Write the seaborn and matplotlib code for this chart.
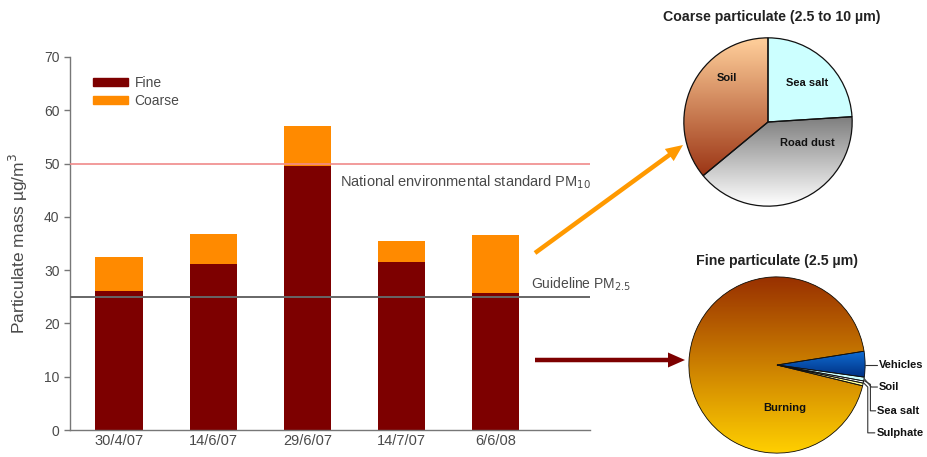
import numpy as np
import pandas as pd
import matplotlib
matplotlib.use("Agg")
import matplotlib.pyplot as plt
import seaborn as sns
from matplotlib.patches import Patch, FancyArrow
from matplotlib.colors import LinearSegmentedColormap

# ---- data ----
dates = ["30/4/07", "14/6/07", "29/6/07", "14/7/07", "6/6/08"]
fine = [26.0, 31.2, 49.5, 31.6, 25.7]
coarse = [6.5, 5.5, 7.6, 3.8, 10.9]
pm10_standard = 50
pm25_guideline = 25

coarse_sources = ["Sea salt", "Road dust", "Soil"]
coarse_shares = [24, 40, 36]
fine_sources = ["Vehicles", "Soil", "Sea salt", "Sulphate", "Burning"]
fine_shares = [4.7, 0.7, 0.4, 0.5, 93.7]

# ---- style ----
sns.set_theme(style="ticks")
plt.rcParams["font.family"] = ["Liberation Sans", "DejaVu Sans"]
TXT = "#4a4a4a"
FINE_C = "#7d0000"
COARSE_C = "#ff8a00"

W, H = 928, 457
fig = plt.figure(figsize=(W / 100, H / 100), dpi=100)
fig.patch.set_facecolor("white")

def px_axes(x0, y0, x1, y1):
    return fig.add_axes([x0 / W, 1 - y1 / H, (x1 - x0) / W, (y1 - y0) / H])

# ---- bar chart ----
ax = px_axes(70, 57, 590, 430)
df = pd.DataFrame({"date": dates, "fine": fine, "coarse": coarse})
df["total"] = df["fine"] + df["coarse"]
sns.barplot(data=df, x="date", y="total", color=COARSE_C, saturation=1,
            width=0.5, ax=ax, linewidth=0)
sns.barplot(data=df, x="date", y="fine", color=FINE_C, saturation=1,
            width=0.5, ax=ax, linewidth=0)
ax.set_xlim(-0.52, 5.0)
ax.set_ylim(0, 70)
ax.set_yticks(range(0, 71, 10))
ax.axhline(pm10_standard, color="#f08a8a", lw=1.2, zorder=3)
ax.axhline(pm25_guideline, color="#666666", lw=1.4, zorder=3)
ax.text(2.345, 46.5, "National environmental standard PM$_{10}$", color=TXT,
        fontsize=10.5, va="center", ha="left")
ax.text(4.37, 27.4, "Guideline PM$_{2.5}$", color=TXT, fontsize=10,
        va="center", ha="left")
ax.set_xlabel("")
ax.set_ylabel("Particulate mass µg/m$^3$", color=TXT, fontsize=12.5, labelpad=10)
sns.despine(ax=ax)
for s in ["left", "bottom"]:
    ax.spines[s].set_color("#777777")
    ax.spines[s].set_linewidth(1.0)
ax.tick_params(axis="y", colors="#777777", labelcolor=TXT, labelsize=10,
               length=4, width=1)
ax.tick_params(axis="x", length=0, labelcolor=TXT, labelsize=10.5, pad=3)
ax.set_facecolor("none")
ax.legend(handles=[Patch(color=FINE_C, label="Fine"),
                   Patch(color=COARSE_C, label="Coarse")],
          loc="upper left", bbox_to_anchor=(0.044, 0.949), frameon=False,
          fontsize=10, handlelength=2.5, handleheight=0.55,
          handletextpad=0.5, labelspacing=0.3, borderpad=0, borderaxespad=0,
          labelcolor=TXT)

# ---- helper for gradient-filled wedges ----
def grad(ax_, wedge, c_top, c_bot, y_top, y_bot):
    ys = np.linspace(-1, 1, 300)
    t = np.clip((ys - y_bot) / (y_top - y_bot), 0, 1).reshape(-1, 1)
    cmap = LinearSegmentedColormap.from_list("g", [c_bot, c_top])
    im = ax_.imshow(t, cmap=cmap, vmin=0, vmax=1, extent=(-1, 1, -1, 1),
                    origin="lower", aspect="auto", zorder=2,
                    interpolation="bilinear")
    im.set_clip_path(wedge)

TITLE_FONT = ["Liberation Sans Narrow", "Liberation Sans", "DejaVu Sans"]

# ---- coarse pie ----
axc = px_axes(683, 37, 853, 207)
wc, _ = axc.pie(coarse_shares, startangle=90, counterclock=False,
                colors=["#ccffff", "#aaaaaa", "#cc7744"],
                wedgeprops=dict(edgecolor="none"))
grad(axc, wc[1], "#7f7f7f", "#ffffff", 0.05, -1.0)
grad(axc, wc[2], "#fdcc98", "#983010", 0.95, -0.7)
axc.pie(coarse_shares, startangle=90, counterclock=False,
        colors=["none"] * 3,
        wedgeprops=dict(edgecolor="#111111", linewidth=0.9, zorder=3))
axc.set_xlim(-1.01, 1.01)
axc.set_ylim(-1.01, 1.01)
axc.set_aspect("equal")
axc.axis("off")
for lab, (x, y) in zip(coarse_sources, [(0.47, 0.46), (0.47, -0.25), (-0.49, 0.52)]):
    axc.text(x, y, lab, ha="center", va="center", fontsize=8,
             fontweight="bold", color="#111111", zorder=5)
fig.text(772 / W, 1 - 17 / H, "Coarse particulate (2.5 to 10 µm)",
         ha="center", va="center", fontsize=10.2, family=TITLE_FONT,
         fontweight="bold", color="#222222")

# ---- fine pie ----
axf = px_axes(688, 276, 866, 454)
wf, _ = axf.pie(fine_shares, startangle=9, counterclock=False,
                colors=["#0a55b0", "#ccffff", "#ffffff", "#ffff99", "#c08a00"],
                wedgeprops=dict(edgecolor="none"))
grad(axf, wf[0], "#1070d8", "#002f80", 0.17, -0.15)
grad(axf, wf[4], "#983000", "#ffcf00", 1.0, -1.0)
axf.pie(fine_shares, startangle=9, counterclock=False, colors=["none"] * 5,
        wedgeprops=dict(edgecolor="#111111", linewidth=0.6, zorder=3))
axf.set_xlim(-1.01, 1.01)
axf.set_ylim(-1.01, 1.01)
axf.set_aspect("equal")
axf.axis("off")
axf.text(0.09, -0.49, "Burning", ha="center", va="center", fontsize=8,
         fontweight="bold", color="#111111", zorder=5)
fine_label_pos = [(1.16, 0.0), (1.16, -0.25), (1.14, -0.52), (1.13, -0.77)]
leaders = [
    [(1.0, 0.0), (1.14, 0.0)],
    [(0.99, -0.155), (1.07, -0.25), (1.14, -0.25)],
    [(0.985, -0.175), (1.06, -0.22), (1.06, -0.52), (1.12, -0.52)],
    [(0.98, -0.2), (1.03, -0.25), (1.03, -0.77), (1.11, -0.77)],
]
for lab, (x, y), pts in zip(fine_sources[:4], fine_label_pos, leaders):
    xs, ys = zip(*pts)
    axf.plot(xs, ys, color="#333333", lw=0.8, clip_on=False, zorder=4)
    axf.text(x, y, lab, ha="left", va="center", fontsize=8,
             fontweight="bold", color="#111111", clip_on=False, zorder=5)
fig.text(777 / W, 1 - 261 / H, "Fine particulate (2.5 µm)",
         ha="center", va="center", fontsize=10.2, family=TITLE_FONT,
         fontweight="bold", color="#222222")

# ---- arrows (overlay in pixel coordinates) ----
ov = fig.add_axes([0, 0, 1, 1], zorder=-1)
ov.set_xlim(0, W)
ov.set_ylim(H, 0)
ov.axis("off")
ov.add_patch(FancyArrow(535, 253, 683 - 535, 145 - 253, width=4.5,
                        head_width=15, head_length=17,
                        length_includes_head=True, color="#ff9900", lw=0))
ov.add_patch(FancyArrow(535, 360, 685 - 535, 0, width=4.5,
                        head_width=15, head_length=17,
                        length_includes_head=True, color="#7d0000", lw=0))

fig.savefig("out.png", dpi=100)
